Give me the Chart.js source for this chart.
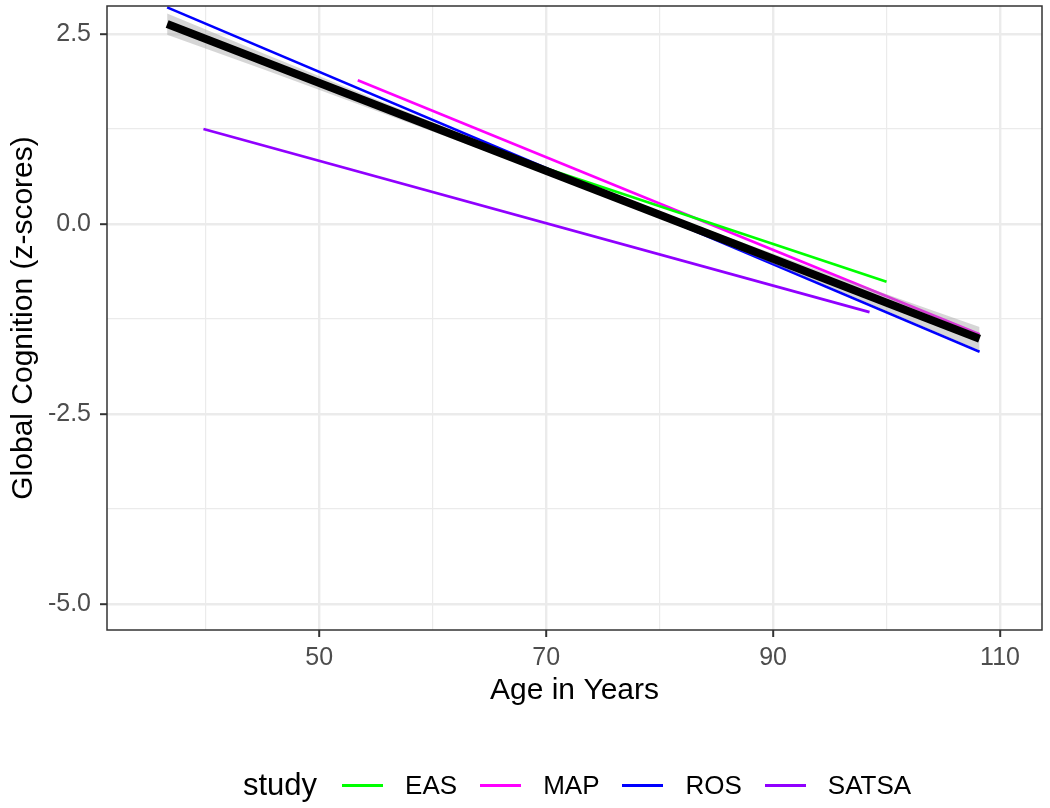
<!DOCTYPE html>
<html>
<head>
<meta charset="utf-8">
<script src="https://cdn.jsdelivr.net/npm/chart.js@4.4.1/dist/chart.umd.min.js"></script>
<style>
  body { margin: 0; background: #fff; font-family: "Liberation Sans", Arial, sans-serif; }
  #wrap { position: relative; width: 1050px; height: 808px; }
  #legend { position: absolute; left: 243px; top: 767px; height: 36px; display: flex; align-items: center; color: #000; }
  #legend .title { font-size: 31px; margin-right: 25px; }
  #legend .key { width: 41px; height: 3px; margin-right: 22px; }
  #legend .lab { font-size: 26px; margin-right: 23px; }
</style>
</head>
<body>
<div id="wrap">
  <canvas id="myChart" width="1050" height="808"></canvas>
  <div id="legend"></div>
</div>
<script>
// study lines (straight fits, start and end points)
const studies = ['EAS', 'MAP', 'ROS', 'SATSA'];
const studyColors = ['#00FF00', '#FF00FF', '#0000FF', '#9000FF'];
const easAge = [65, 100];
const easScore = [0.98, -0.76];
const mapAge = [53.4, 108.2];
const mapScore = [1.89, -1.45];
const rosAge = [36.6, 108.2];
const rosScore = [2.85, -1.68];
const satsaAge = [39.8, 98.5];
const satsaScore = [1.25, -1.16];

// overall fit with its confidence band
const allAge = [36.6, 108.2];
const allScore = [2.63, -1.51];
const bandAge = [36.6, 45, 55, 65, 75, 85, 95, 108.2];
const bandUpper = [2.77, 2.25, 1.64, 1.04, 0.45, -0.12, -0.66, -1.355];
const bandLower = [2.49, 2.04, 1.49, 0.94, 0.37, -0.22, -0.83, -1.665];

// axes
const xMajorTicks = [50, 70, 90, 110];
const xGridTicks = [40, 50, 60, 70, 80, 90, 100, 110];
const yMajorTicks = [-5, -2.5, 0, 2.5];
const yGridTicks = [-5, -3.75, -2.5, -1.25, 0, 1.25, 2.5];
const xMin = 31.3, xMax = 113.7;
const yMin = -5.342, yMax = 2.868;

const fontFam = "'Liberation Sans', Arial, sans-serif";
Chart.defaults.font.family = fontFam;

function toPoints(xs, ys) {
    return xs.map((x, i) => ({ x, y: ys[i] }));
}

const studyData = [
    toPoints(easAge, easScore),
    toPoints(mapAge, mapScore),
    toPoints(rosAge, rosScore),
    toPoints(satsaAge, satsaScore)
];

const datasets = [
    {
        label: 'overall',
        data: toPoints(allAge, allScore),
        borderColor: '#000000',
        borderWidth: 8,
        pointRadius: 0,
        order: 0
    },
    {
        label: 'upper',
        data: toPoints(bandAge, bandUpper),
        borderWidth: 0,
        pointRadius: 0,
        backgroundColor: 'rgba(153,153,153,0.4)',
        fill: '+1',
        order: 1
    },
    {
        label: 'lower',
        data: toPoints(bandAge, bandLower),
        borderWidth: 0,
        pointRadius: 0,
        fill: false,
        order: 1
    }
];
studies.forEach((s, i) => {
    datasets.push({
        label: s,
        data: studyData[i],
        borderColor: studyColors[i],
        borderWidth: 2.7,
        pointRadius: 0,
        fill: false,
        order: 2
    });
});

const panelBorder = {
    id: 'panelBorder',
    afterDraw(chart) {
        const { ctx, chartArea: a } = chart;
        ctx.save();
        ctx.strokeStyle = '#333333';
        ctx.lineWidth = 1.5;
        ctx.strokeRect(a.left, a.top, a.right - a.left, a.bottom - a.top);
        ctx.restore();
    }
};

const xMajor = ctx => ctx.tick && xMajorTicks.includes(ctx.tick.value);
const yMajor = ctx => ctx.tick && yMajorTicks.includes(ctx.tick.value);

const config = {
    type: 'line',
    data: { datasets },
    options: {
        responsive: false,
        animation: false,
        devicePixelRatio: 1,
        layout: { padding: { left: 0, top: 6, right: 8, bottom: 0 } },
        plugins: { legend: { display: false }, tooltip: { enabled: false } },
        scales: {
            x: {
                type: 'linear',
                min: xMin,
                max: xMax,
                afterBuildTicks: s => { s.ticks = xGridTicks.map(v => ({ value: v })); },
                afterFit: s => { s.height = 178; s.paddingLeft = 0; s.paddingRight = 0; },
                ticks: {
                    autoSkip: false,
                    maxRotation: 0,
                    padding: 6,
                    color: '#4D4D4D',
                    font: { size: 25 },
                    callback: v => xMajorTicks.includes(v) ? String(v) : ''
                },
                grid: {
                    color: '#EBEBEB',
                    lineWidth: ctx => xMajor(ctx) ? 2.4 : 1.2,
                    drawTicks: true,
                    tickLength: 7,
                    tickWidth: 2,
                    tickColor: ctx => xMajor(ctx) ? '#333333' : 'rgba(0,0,0,0)'
                },
                border: { display: false },
                title: {
                    display: true,
                    text: 'Age in Years',
                    color: '#000',
                    font: { size: 30 },
                    padding: { top: 0, bottom: 99 }
                }
            },
            y: {
                type: 'linear',
                min: yMin,
                max: yMax,
                afterBuildTicks: s => { s.ticks = yGridTicks.map(v => ({ value: v })); },
                afterFit: s => { s.width = 107; s.paddingTop = 0; s.paddingBottom = 0; },
                ticks: {
                    padding: 9,
                    color: '#4D4D4D',
                    font: { size: 25 },
                    callback: v => yMajorTicks.includes(v) ? v.toFixed(1) : ''
                },
                grid: {
                    color: '#EBEBEB',
                    lineWidth: ctx => yMajor(ctx) ? 2.4 : 1.2,
                    drawTicks: true,
                    tickLength: 7,
                    tickWidth: 2,
                    tickColor: ctx => yMajor(ctx) ? '#333333' : 'rgba(0,0,0,0)'
                },
                border: { display: false },
                title: {
                    display: true,
                    text: 'Global Cognition (z-scores)',
                    color: '#000',
                    font: { size: 30 },
                    padding: { top: 6, bottom: 0 }
                }
            }
        }
    },
    plugins: [panelBorder]
};

const myChart = new Chart(document.getElementById('myChart').getContext('2d'), config);

// legend in the style of the original
const legend = document.getElementById('legend');
legend.innerHTML = '<span class="title">study</span>' + studies.map((s, i) =>
    `<span class="key" style="background:${studyColors[i]}"></span><span class="lab">${s}</span>`
).join('');
</script>
</body>
</html>
